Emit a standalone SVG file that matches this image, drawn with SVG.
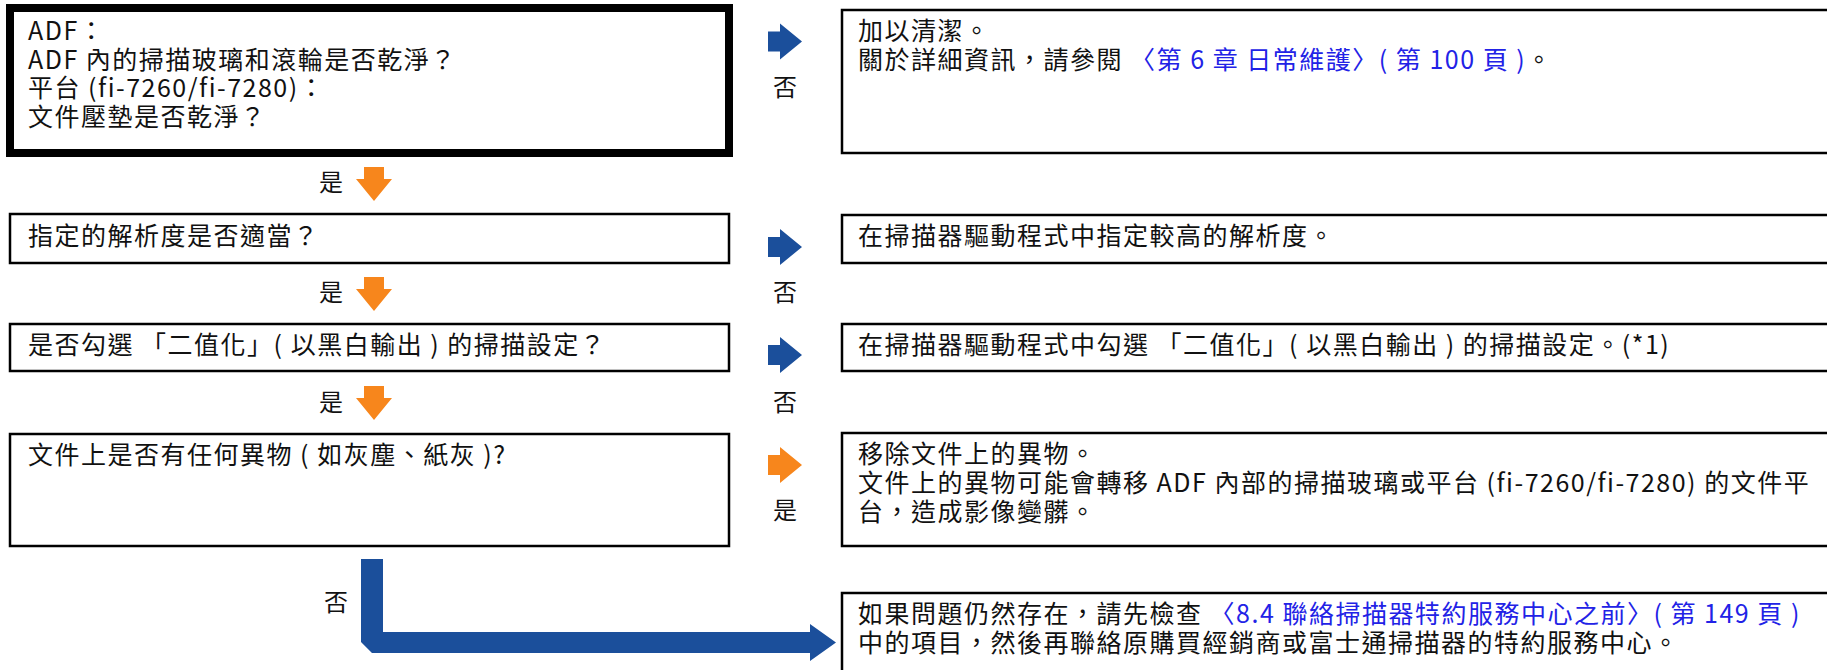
<svg xmlns="http://www.w3.org/2000/svg" width="1827" height="670" viewBox="0 0 1827 670">
<style>
.t{font-family:"Noto Sans CJK TC","Liberation Sans",sans-serif;font-size:25px;fill:#111;letter-spacing:1.5px}
.box{fill:#fff;stroke:#000;stroke-width:2.5}
.thick{fill:#fff;stroke:#000;stroke-width:8}
.blue{fill:#1b4f9b}
.orange{fill:#f7861c}
.lk{fill:#2222e6}
.lbl{font-family:"Noto Sans CJK TC","Liberation Sans",sans-serif;font-size:24px;fill:#111;text-anchor:middle}
</style>
<rect width="1827" height="670" fill="#fff"/>
<g id="q1">
<rect class="thick" x="10" y="8" width="719" height="145"/>
<text class="t" x="28" y="40">ADF：<tspan x="28" dy="28.5">ADF 內的掃描玻璃和滾輪是否乾淨？</tspan><tspan x="28" dy="28.5">平台 (fi-7260/fi-7280)：</tspan><tspan x="28" dy="28.5">文件壓墊是否乾淨？</tspan></text>
</g>
<g id="a1">
<rect class="box" x="842" y="10" width="1000" height="143"/>
<text class="t" x="858" y="40">加以清潔。<tspan x="858" dy="29">關於詳細資訊，請參閱 </tspan><tspan class="lk">〈第 6 章 日常維護〉( 第 100 頁 )</tspan>。</text>
</g>
<g id="q2">
<rect class="box" x="10" y="214" width="719" height="49"/>
<text class="t" x="28" y="245">指定的解析度是否適當？</text>
</g>
<g id="a2">
<rect class="box" x="842" y="215" width="1000" height="48"/>
<text class="t" x="858" y="245">在掃描器驅動程式中指定較高的解析度。</text>
</g>
<g id="q3">
<rect class="box" x="10" y="324" width="719" height="47"/>
<text class="t" x="28" y="354">是否勾選 「二值化」( 以黑白輸出 ) 的掃描設定？</text>
</g>
<g id="a3">
<rect class="box" x="842" y="324" width="1000" height="47"/>
<text class="t" x="858" y="354">在掃描器驅動程式中勾選 「二值化」( 以黑白輸出 ) 的掃描設定。(*1)</text>
</g>
<g id="q4">
<rect class="box" x="10" y="434" width="719" height="112"/>
<text class="t" x="28" y="464">文件上是否有任何異物 ( 如灰塵、紙灰 )?</text>
</g>
<g id="a4">
<rect class="box" x="842" y="433" width="1000" height="113"/>
<text class="t" x="858" y="463">移除文件上的異物。<tspan x="858" dy="29">文件上的異物可能會轉移 ADF 內部的掃描玻璃或平台 (fi-7260/fi-7280) 的文件平</tspan><tspan x="858" dy="29">台，造成影像變髒。</tspan></text>
</g>
<g id="a5">
<rect class="box" x="842" y="593" width="1000" height="100"/>
<text class="t" x="858" y="623">如果問題仍然存在，請先檢查 <tspan class="lk">〈8.4 聯絡掃描器特約服務中心之前〉( 第 149 頁 )</tspan><tspan x="858" dy="29">中的項目，然後再聯絡原購買經銷商或富士通掃描器的特約服務中心。</tspan></text>
</g>
<g id="connectors">
<polygon class="blue" points="768,31.5 780,31.5 780,23.5 802,41.5 780,59.5 780,51.5 768,51.5"/>
<text class="lbl" x="785" y="96">否</text>
<polygon class="orange" points="364,167 384,167 384,179 392,179 374,201 356,179 364,179"/>
<text class="lbl" x="331" y="191">是</text>
<polygon class="blue" points="768,237 780,237 780,229 802,247 780,265 780,257 768,257"/>
<text class="lbl" x="785" y="301">否</text>
<polygon class="orange" points="364,277 384,277 384,289 392,289 374,311 356,289 364,289"/>
<text class="lbl" x="331" y="301">是</text>
<polygon class="blue" points="768,345 780,345 780,337 802,355 780,373 780,365 768,365"/>
<text class="lbl" x="785" y="411">否</text>
<polygon class="orange" points="364,386 384,386 384,398 392,398 374,420 356,398 364,398"/>
<text class="lbl" x="331" y="411">是</text>
<polygon class="orange" points="768,455 780,455 780,447 802,465 780,483 780,475 768,475"/>
<text class="lbl" x="785" y="519">是</text>
<polygon class="blue" points="361,559 383,559 383,632 810,632 810,624 836,642.5 810,661 810,653 372,653 361,642"/>
<text class="lbl" x="336" y="611">否</text>
</g>
</svg>
